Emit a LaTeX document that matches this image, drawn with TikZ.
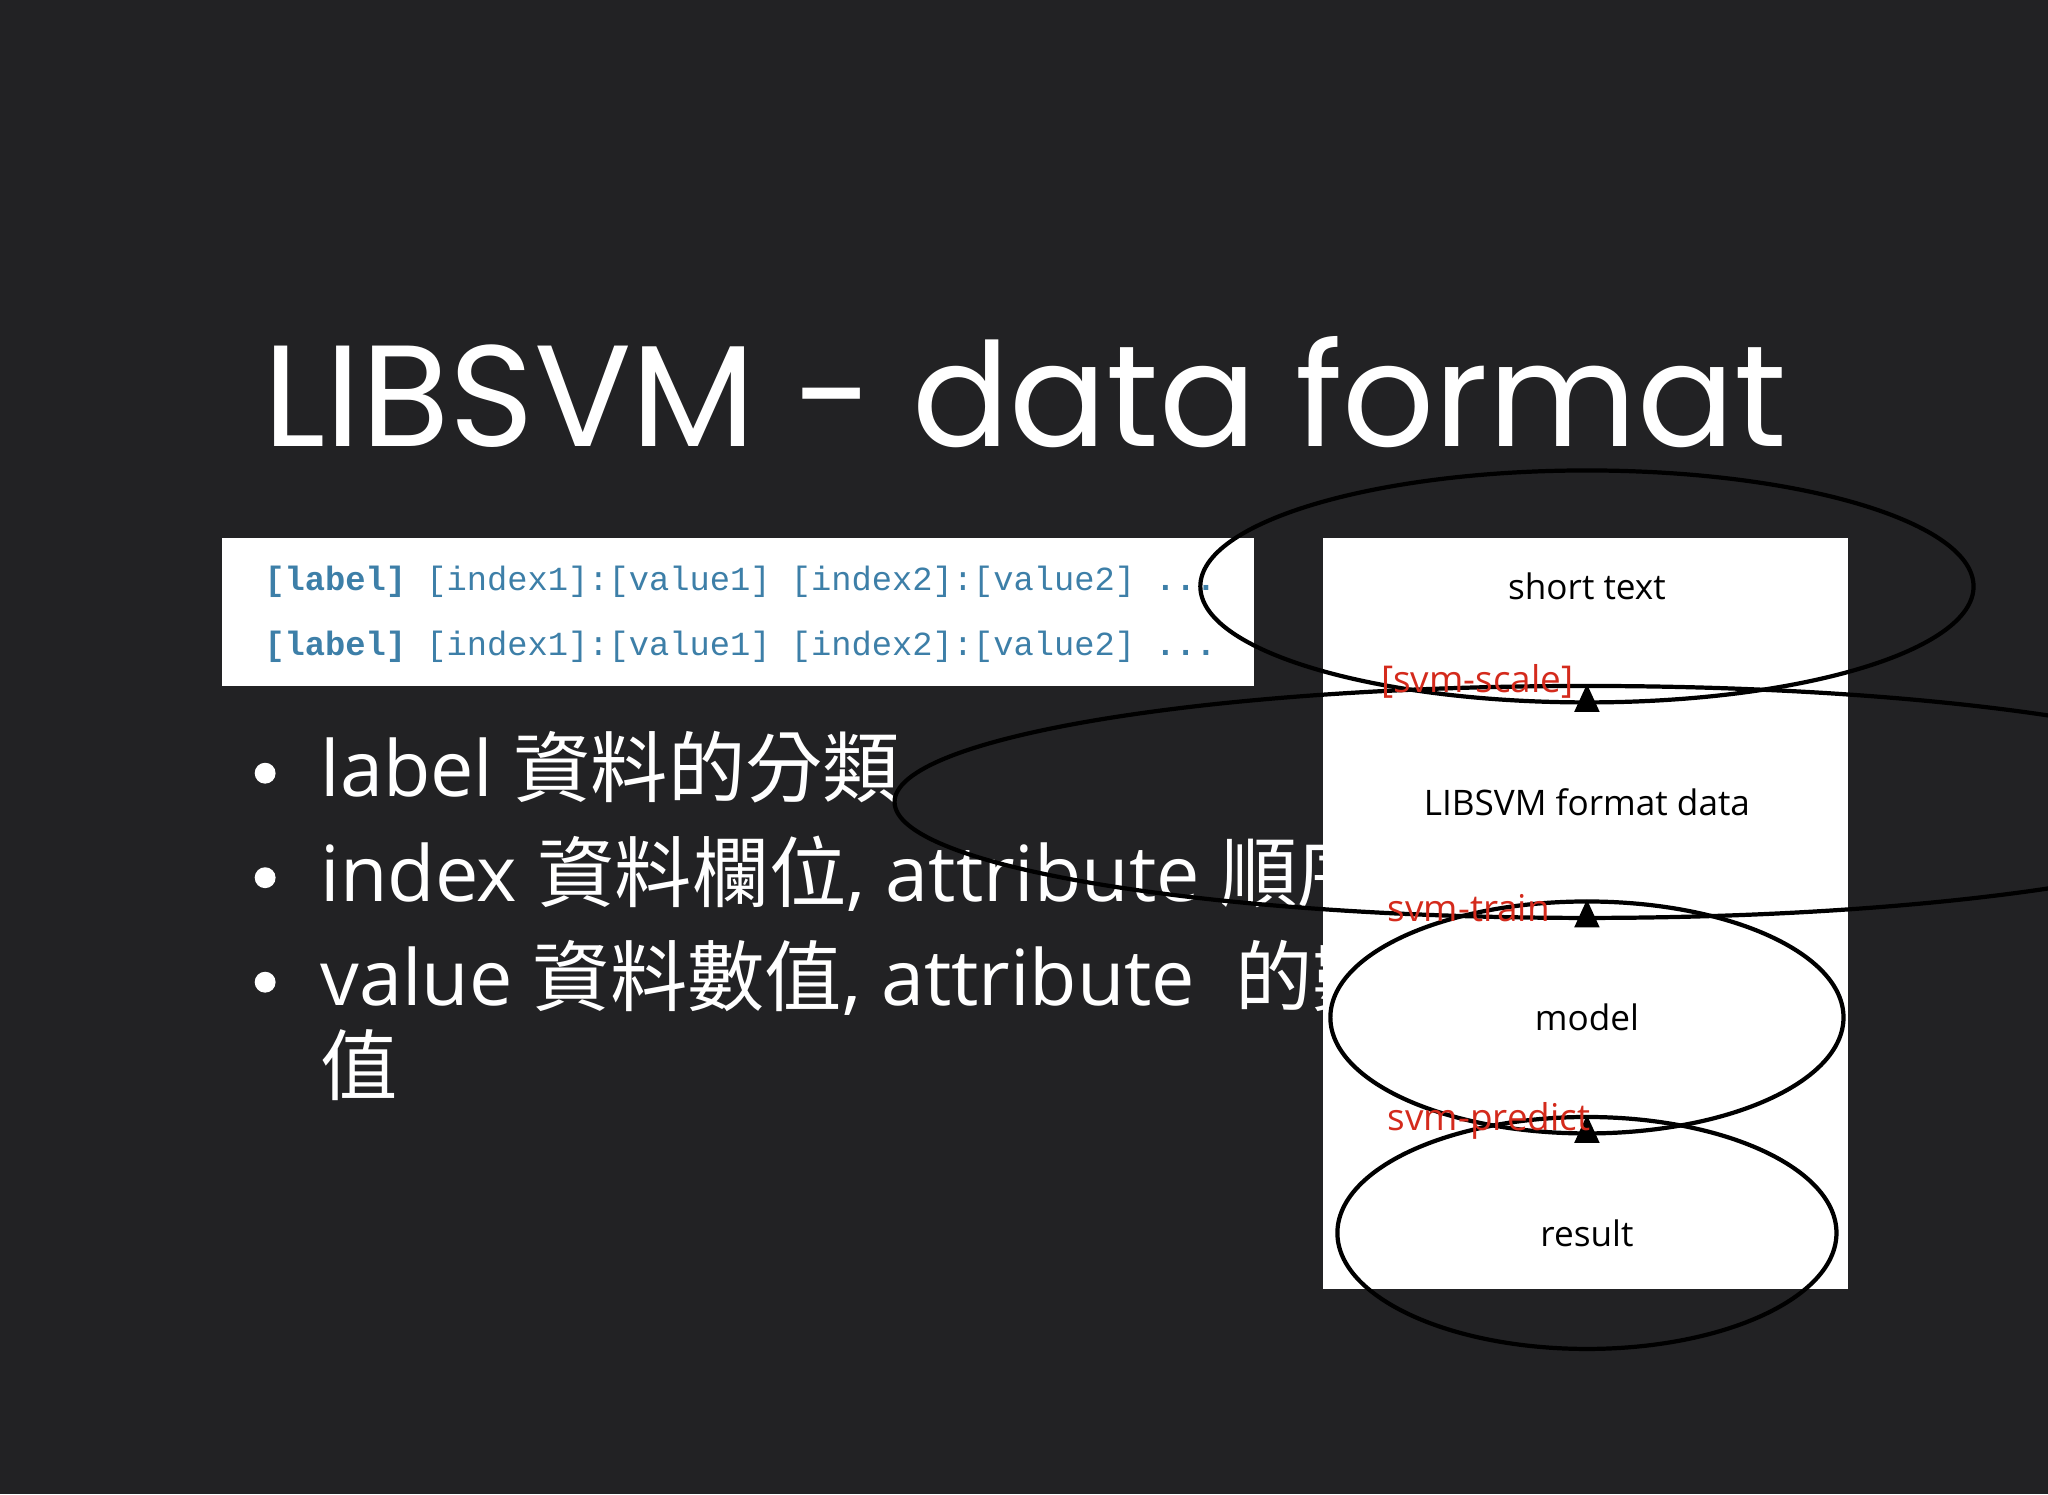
\documentclass[tikz,border=0pt]{standalone}
\usepackage{fontspec}
\setmainfont{Open Sans}
\newfontfamily\cjk{Noto Sans CJK TC}
\newfontfamily\titlefont{Poppins}
\newfontfamily\codefont{Liberation Mono}
\usetikzlibrary{shapes.geometric,arrows.meta}
\definecolor{bg}{HTML}{222224}
\definecolor{codeblue}{HTML}{3D7FA8}
\definecolor{lblred}{HTML}{D42A1C}
\tikzset{
  ell/.style={ellipse,draw=black,line width=1.2pt,inner sep=0pt,font=\fontsize{10}{12}\selectfont},
  lbl/.style={anchor=west,text=lblred,font=\fontsize{10.5}{12}\selectfont},
  conn/.style={-{Triangle[length=8pt,width=7pt]},line width=1pt},
  bul/.style={anchor=base west,text=white,font=\fontsize{22}{26}\selectfont},
  code/.style={anchor=base west,text=codeblue,font=\codefont\fontsize{9.6}{11}\selectfont}
}
\begin{document}
\begin{tikzpicture}[x=0.01306cm,y=-0.01306cm]
\fill[bg] (0,0) rectangle (1568,1144);
\useasboundingbox (0,0) rectangle (1568,1144);
\node[text=white,font=\titlefont\fontsize{41}{48}\selectfont] (title) at (785,300) {LIBSVM - data format};
% code box
\fill[white] (170,412) rectangle (960,525);
\node[code] (c1) at (193,452) {\textbf{[label]} [index1]:[value1] [index2]:[value2] \textbf{...}};
\node[code] (c2) at (193,502) {\textbf{[label]} [index1]:[value1] [index2]:[value2] \textbf{...}};
% bullets
\foreach \yy in {592,672,752} \fill[white] (203,\yy) circle (8);
\node[bul] (b1) at (236,610) {label {\cjk 資料的分類}};
\node[bul] (b2) at (236,690) {index {\cjk 資料欄位}, attribute {\cjk 順序}};
\node[bul] (b3) at (236,770) {value {\cjk 資料數值}, attribute\ \ {\cjk 的數}};
\node[bul] (b4) at (236,838) {\cjk 值};
% right panel
\fill[white] (1013,412) rectangle (1415,987);
\node[ell,minimum width=220,minimum height=66] (n1) at (1215,449) {short text};
\node[ell,minimum width=394,minimum height=66] (n2) at (1215,614) {LIBSVM format data};
\node[ell,minimum width=146,minimum height=66] (n3) at (1215,779) {model};
\node[ell,minimum width=142,minimum height=66] (n4) at (1215,944) {result};
\draw[conn] (n1) -- (n2);
\draw[conn] (n2) -- (n3);
\draw[conn] (n3) -- (n4);
\node[lbl] (l1) at (1048,522) {[svm-scale]};
\node[lbl] (l2) at (1053,695) {svm-train};
\node[lbl] (l3) at (1053,858) {svm-predict};
\end{tikzpicture}
\end{document}
